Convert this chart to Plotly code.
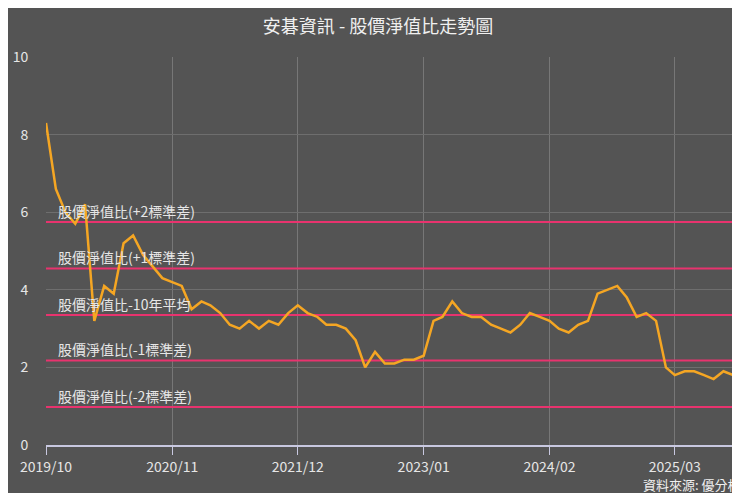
import pandas as pd
import plotly.graph_objects as go

# monthly P/B ratio, 2019/10 .. 2025/10
months = pd.date_range("2019-10-01", "2025-10-01", freq="MS")
pb_ratio = [
    8.3, 6.6, 6.0, 5.7, 6.2, 3.2, 4.1, 3.9, 5.2, 5.4, 4.9, 4.6, 4.3, 4.2, 4.1, 3.5,
    3.7, 3.6, 3.4, 3.1, 3.0, 3.2, 3.0, 3.2, 3.1, 3.4, 3.6, 3.4, 3.3, 3.1, 3.1, 3.0,
    2.7, 2.0, 2.4, 2.1, 2.1, 2.2, 2.2, 2.3, 3.2, 3.3, 3.7, 3.4, 3.3, 3.3, 3.1, 3.0,
    2.9, 3.1, 3.4, 3.3, 3.2, 3.0, 2.9, 3.1, 3.2, 3.9, 4.0, 4.1, 3.8, 3.3, 3.4, 3.2,
    2.0, 1.8, 1.9, 1.9, 1.8, 1.7, 1.9, 1.8, 1.7,
]

band_labels = ["股價淨值比(+2標準差)", "股價淨值比(+1標準差)", "股價淨值比-10年平均",
               "股價淨值比(-1標準差)", "股價淨值比(-2標準差)"]
band_values = [5.75, 4.55, 3.35, 2.18, 0.98]

tick_dates = ["2019-10-01", "2020-11-01", "2021-12-01", "2023-01-01",
              "2024-02-01", "2025-03-01", "2025-10-01"]
tick_labels = ["2019/10", "2020/11", "2021/12", "2023/01", "2024/02", "2025/03", "2025/10"]

fig = go.Figure()

for label, val in zip(band_labels, band_values):
    fig.add_trace(go.Scatter(
        x=[months[0], months[-1]], y=[val, val], mode="lines",
        line=dict(color="#e8336e", width=2), hoverinfo="skip", showlegend=False,
    ))
    fig.add_annotation(x=months[1], y=val, text=label, showarrow=False,
                       xanchor="left", yanchor="bottom", yshift=-1,
                       font=dict(size=14, color="#e6e6e6"))

fig.add_trace(go.Scatter(
    x=months, y=pb_ratio, mode="lines",
    line=dict(color="#f5a623", width=2.5), showlegend=False,
))

fig.add_annotation(x=1, y=0, xref="paper", yref="paper", yshift=-28, text="資料來源: 優分析",
                   showarrow=False, xanchor="right", yanchor="top",
                   font=dict(size=13, color="#f0f0f0"))

fig.update_layout(
    title=dict(text="安碁資訊 - 股價淨值比走勢圖", x=0.5, y=0.975,
               font=dict(size=18, color="#f0f0f0")),
    font=dict(family="Noto Sans CJK TC", color="#e0e0e0"),
    paper_bgcolor="#545454", plot_bgcolor="#545454",
    width=740, height=493,
    margin=dict(l=38, r=5, t=49, b=56),
    xaxis=dict(
        tickvals=pd.to_datetime(tick_dates), ticktext=tick_labels,
        range=[months[0], months[-1] + pd.Timedelta(hours=12)],
        showgrid=True, gridcolor="#777777", automargin=False,
        showline=True, linecolor="#c8c8e0", linewidth=2,
        ticks="outside", tickcolor="#c8c8e0", ticklen=8,
        tickfont=dict(size=14, color="#e6e6e6"),
    ),
    yaxis=dict(
        range=[0, 10], dtick=2, showgrid=True, gridcolor="#6e6e6e",
        zeroline=False, automargin=False, ticklen=14, ticks="outside",
        tickcolor="rgba(0,0,0,0)", tickfont=dict(size=14, color="#e6e6e6"),
    ),
)

fig.write_html("out.html")
